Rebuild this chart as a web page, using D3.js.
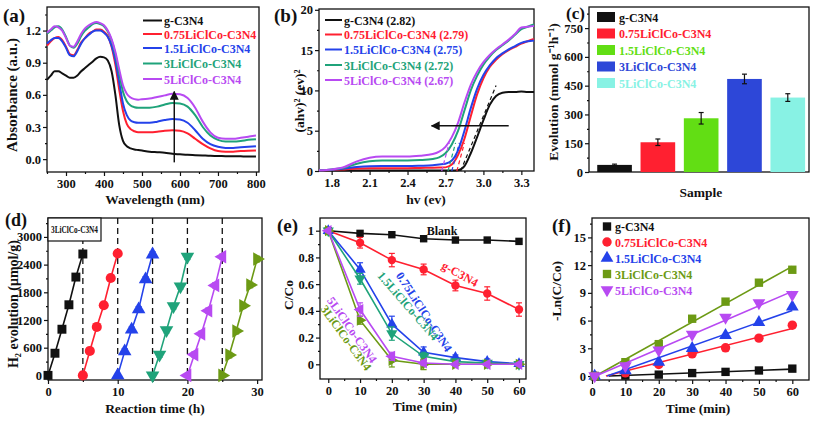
<!DOCTYPE html>
<html><head><meta charset="utf-8">
<script src="https://cdn.jsdelivr.net/npm/d3@7"></script>
<style>
body{margin:0;background:#fff;}
svg{display:block;font-family:"Liberation Serif","Times New Roman",serif;font-weight:bold;}
</style></head><body>
<svg id="c" width="813" height="421"></svg>
<script>
// ---------------- DATA ----------------
// (a) UV-vis absorbance
const wavelength = [250,260,270,280,290,300,310,320,330,340,350,360,370,380,390,400,410,420,430,440,450,460,470,480,490,500,520,540,560,580,600,620,640,660,680,700,720,740,760,780,800];
const absG   = [0.74,0.78,0.82,0.82,0.80,0.78,0.76,0.76,0.78,0.82,0.85,0.88,0.91,0.94,0.955,0.95,0.92,0.82,0.60,0.32,0.17,0.12,0.10,0.09,0.085,0.08,0.07,0.065,0.06,0.05,0.045,0.04,0.037,0.034,0.031,0.03,0.028,0.027,0.026,0.025,0.025];
const abs075 = [1.06,1.10,1.13,1.14,1.11,1.05,0.98,0.97,1.02,1.09,1.13,1.17,1.19,1.21,1.21,1.19,1.15,1.05,0.88,0.65,0.45,0.33,0.28,0.26,0.25,0.25,0.25,0.255,0.265,0.27,0.265,0.24,0.19,0.14,0.10,0.075,0.07,0.07,0.075,0.078,0.08];
const abs15  = [1.08,1.11,1.13,1.13,1.10,1.04,0.97,0.96,1.01,1.08,1.13,1.16,1.19,1.20,1.20,1.18,1.14,1.06,0.92,0.72,0.52,0.41,0.36,0.345,0.34,0.34,0.34,0.35,0.365,0.375,0.37,0.34,0.27,0.19,0.14,0.115,0.105,0.105,0.11,0.115,0.12];
const abs3   = [1.17,1.20,1.23,1.24,1.21,1.14,1.06,1.04,1.08,1.15,1.20,1.23,1.26,1.27,1.26,1.24,1.19,1.11,0.98,0.80,0.63,0.54,0.50,0.485,0.48,0.48,0.48,0.49,0.51,0.525,0.52,0.49,0.41,0.30,0.22,0.18,0.165,0.165,0.17,0.18,0.185];
const abs5   = [1.18,1.21,1.24,1.23,1.20,1.13,1.06,1.05,1.10,1.17,1.22,1.25,1.27,1.28,1.27,1.25,1.20,1.12,1.00,0.84,0.69,0.61,0.575,0.56,0.555,0.56,0.565,0.58,0.595,0.61,0.605,0.57,0.48,0.35,0.25,0.20,0.19,0.19,0.20,0.21,0.22];
const sampleNames = ["g-C3N4","0.75LiClCo-C3N4","1.5LiClCo-C3N4","3LiClCo-C3N4","5LiClCo-C3N4"];
const absTicksX = [300,400,500,600,700,800];
const absTicksY = [0,0.3,0.6,0.9,1.2];

// (b) Tauc plot
const energy = [1.7,1.8,1.9,2.0,2.1,2.2,2.3,2.4,2.5,2.6,2.65,2.7,2.75,2.8,2.85,2.9,2.95,3.0,3.05,3.1,3.15,3.2,3.25,3.3,3.35,3.4];
const taucG   = [0.05,0.05,0.05,0.05,0.05,0.05,0.05,0.05,0.05,0.05,0.05,0.05,0.05,0.1,0.6,2.2,4.2,6.3,8.2,9.3,9.7,9.8,9.8,9.85,9.8,9.8];
const tauc075 = [0.1,0.12,0.2,0.3,0.35,0.35,0.35,0.35,0.38,0.4,0.42,0.45,0.8,2.0,4.0,6.8,9.5,11.5,12.9,13.8,14.5,15.0,15.4,15.8,16.1,16.4];
const tauc15  = [0.1,0.15,0.3,0.5,0.6,0.62,0.62,0.62,0.65,0.7,0.8,0.9,1.3,2.6,5.0,7.8,10.2,11.9,13.1,14.0,14.6,15.1,15.5,15.9,16.1,16.2];
const tauc3   = [0.1,0.2,0.4,0.9,1.2,1.3,1.3,1.3,1.35,1.5,1.7,2.2,3.3,5.0,7.5,10.0,11.8,13.2,14.2,15.0,15.6,16.2,16.9,17.6,17.9,18.2];
const tauc5   = [0.1,0.2,0.5,1.2,1.65,1.8,1.8,1.8,1.9,2.1,2.4,3.0,4.2,6.0,8.5,10.7,12.3,13.5,14.4,15.1,15.7,16.3,17.0,17.8,17.9,18.0];
const bandGaps = [2.82,2.79,2.75,2.72,2.67];
const tangentEndX = [3.10,2.85,2.81,2.78,2.73];
const tangentEndY = [10.6,3.5,3.5,3.5,3.5];
const taucTicksX = [1.8,2.1,2.4,2.7,3.0,3.3];
const taucTicksY = [0,5,10,15,20];

// (c) H2 evolution rate
const rateValues = [37,155,280,485,388];
const rateErrors = [4,17,30,25,20];
const rateTicksY = [0,150,300,450,600,750];

// (d) cycling
const cycleStarts = [0,5,10,15,20,25];
const cycleHours  = [0,1,2,3,4,5];
const cycle1 = [0,480,1000,1530,2130,2630];
const cycle2 = [0,530,1050,1520,2110,2640];
const cycle3 = [0,520,990,1430,2080,2620];
const cycle4 = [0,450,980,1500,1930,2570];
const cycle5 = [0,450,900,1400,1950,2570];
const cycle6 = [0,440,960,1510,1960,2520];
const cycleTicksX = [0,10,20,30];
const cycleTicksY = [0,600,1200,1800,2400,3000];

// (e) degradation
const degTimes = [0,10,20,30,40,50,60];
const degNames = ["Blank","g-C3N4","0.75LiClCo-C3N4","1.5LiClCo-C3N4","5LiClCo-C3N4","3LiClCo-C3N4"];
const degBlank = [1,0.98,0.97,0.94,0.93,0.93,0.92];
const degG     = [1,0.91,0.78,0.71,0.59,0.53,0.41];
const deg075   = [1,0.71,0.30,0.09,0.05,0.02,0.005];
const deg15    = [1,0.64,0.23,0.06,0.02,0.01,0.0];
const deg5     = [1,0.41,0.06,0.01,0.0,0.0,0.0];
const deg3     = [1,0.33,0.03,0.0,0.0,0.0,0.0];
const errBlank = [0,0.01,0.01,0.01,0.01,0.01,0.01];
const errG     = [0,0.04,0.05,0.04,0.04,0.05,0.05];
const err075   = [0,0.05,0.06,0.04,0.02,0.02,0.01];
const err15    = [0,0.04,0.05,0.03,0.02,0.01,0.01];
const err5     = [0,0.05,0.03,0.02,0.01,0.01,0.01];
const err3     = [0,0.03,0.05,0.04,0.01,0.01,0.01];
const degTicksY = [0,0.2,0.4,0.6,0.8,1];
const timeTicks = [0,10,20,30,40,50,60];

// (f) kinetics
const kinTimes = [0,10,20,30,40,50,60];
const kinNames = ["g-C3N4","0.75LiClCo-C3N4","1.5LiClCo-C3N4","3LiClCo-C3N4","5LiClCo-C3N4"];
const kinG   = [0,0.05,0.15,0.32,0.45,0.6,0.8];
const kin075 = [0,0.35,1.25,2.4,3.05,4.1,5.5];
const kin15  = [0,0.6,1.5,3.0,4.4,5.8,7.5];
const kin3   = [0,1.5,3.45,6.2,8.05,10.1,11.5];
const kin5   = [0,1.1,2.8,4.5,6.35,7.9,8.8];
const kinTicksY = [0,3,6,9,12,15];

// ---------------- STYLE ----------------
const C = {black:"#111111", red:"#ff2030", blue:"#2442ea", teal:"#1fa37a", purple:"#b84af2",
           olive:"#6c9a14", lime:"#62de14", blueC:"#2d47d8", cyan:"#88f2e4"};
const FONT = "Liberation Serif, Times New Roman, serif";
const svg = d3.select("#c");

function panel(cfg){
  const g = svg.append("g");
  const x = d3.scaleLinear().domain(cfg.xd).range([cfg.L, cfg.R]);
  const y = d3.scaleLinear().domain(cfg.yd).range([cfg.B, cfg.T]);
  const styleAxis = sel => {
    sel.select(".domain").remove();
    sel.selectAll("text").attr("font-family",FONT).attr("font-weight","bold").attr("font-size",12.5).attr("fill","#111");
    sel.selectAll("line").attr("stroke","#111").attr("stroke-width",1.2);
  };
  if(cfg.xt){
    g.append("g").attr("transform",`translate(0,${cfg.B})`)
      .call(d3.axisBottom(x).tickValues(cfg.xt).tickFormat(cfg.xf||(d=>d)).tickSize(4).tickSizeOuter(0).tickPadding(3)).call(styleAxis);
    g.append("g").attr("transform",`translate(0,${cfg.B})`)
      .call(d3.axisBottom(x).tickValues(cfg.xm).tickFormat("").tickSize(2).tickSizeOuter(0)).call(styleAxis);
  }
  g.append("g").attr("transform",`translate(${cfg.L},0)`)
    .call(d3.axisLeft(y).tickValues(cfg.yt).tickFormat(cfg.yf||(d=>d)).tickSize(4).tickSizeOuter(0).tickPadding(2)).call(styleAxis);
  g.append("g").attr("transform",`translate(${cfg.L},0)`)
    .call(d3.axisLeft(y).tickValues(cfg.ym).tickFormat("").tickSize(2).tickSizeOuter(0)).call(styleAxis);
  g.append("rect").attr("x",cfg.L).attr("y",cfg.T).attr("width",cfg.R-cfg.L).attr("height",cfg.B-cfg.T)
    .attr("fill","none").attr("stroke","#111").attr("stroke-width",1.3);
  const plot = g.append("g");
  svg.append("text").attr("x",cfg.letter[0]).attr("y",cfg.letter[1]).attr("font-size",cfg.letter[2]||19).attr("fill","#111").text(cfg.name);
  if(cfg.xtitle) svg.append("text").attr("x",cfg.xtitle[0]).attr("y",cfg.xtitle[1]).attr("text-anchor","middle").attr("font-size",13.5).attr("fill","#111").text(cfg.xtitle[2]);
  if(cfg.ytitle) svg.append("text").attr("transform",`translate(${cfg.ytitle[0]},${cfg.ytitle[1]}) rotate(-90)`).attr("text-anchor","middle").attr("dominant-baseline","central").attr("font-size",cfg.ytitle[3]||13.5).attr("fill","#111").text(cfg.ytitle[2]);
  return {g:plot,x,y,cfg};
}
function range(a,b,s){const r=[];for(let v=a;v<=b+1e-9;v+=s)r.push(+v.toFixed(4));return r;}

const symTypes = {square:d3.symbolSquare,circle:d3.symbolCircle,up:d3.symbolTriangle,down:d3.symbolTriangle,left:d3.symbolTriangle,right:d3.symbolTriangle};
const symRot = {square:0,circle:0,up:0,down:180,left:-90,right:90};
function drawSym(g,type,size,cx,cy,color){
  g.append("path").attr("d",d3.symbol(symTypes[type],size)()).attr("transform",`translate(${cx},${cy}) rotate(${symRot[type]})`).attr("fill",color);
}
function errBar(g,cx,y1,y2,hw,color){
  g.append("line").attr("x1",cx).attr("x2",cx).attr("y1",y1).attr("y2",y2).attr("stroke",color).attr("stroke-width",1.2);
  g.append("line").attr("x1",cx-hw).attr("x2",cx+hw).attr("y1",y1).attr("y2",y1).attr("stroke",color).attr("stroke-width",1.2);
  g.append("line").attr("x1",cx-hw).attr("x2",cx+hw).attr("y1",y2).attr("y2",y2).attr("stroke",color).attr("stroke-width",1.2);
}
svg.append("defs").append("marker").attr("id","ah").attr("viewBox","0 0 10 10").attr("refX",9).attr("refY",5)
  .attr("markerWidth",6).attr("markerHeight",6).attr("orient","auto-start-reverse")
  .append("path").attr("d","M0,0 L10,5 L0,10 z").attr("fill","#111");

// ---------------- (a) ----------------
{
  const p = panel({name:"(a)",letter:[3,22],L:47,R:259,T:7,B:172,xd:[250,808],yd:[-0.12,1.42],
    xt:absTicksX,xm:range(250,750,100),yt:absTicksY,ym:range(0.15,1.35,0.3),yf:d3.format(".1f"),
    xtitle:[155,204,"Wavelength (nm)"],ytitle:[12,95,"Absorbance (a.u.)",15]});
  const series=[absG,abs075,abs15,abs3,abs5], cols=[C.black,C.red,C.blue,C.teal,C.purple];
  const line = d3.line().x((d,i)=>p.x(wavelength[i])).y(d=>p.y(d)).curve(d3.curveMonotoneX);
  series.forEach((s,k)=>p.g.append("path").attr("d",line(s)).attr("fill","none").attr("stroke",cols[k]).attr("stroke-width",2));
  p.g.append("line").attr("x1",p.x(585)).attr("x2",p.x(585)).attr("y1",p.y(-0.03)).attr("y2",p.y(0.63))
    .attr("stroke","#111").attr("stroke-width",1.5).attr("marker-end","url(#ah)");
  const rows=[20.5,34,48,63.5,79];
  sampleNames.forEach((n,k)=>{
    p.g.append("line").attr("x1",143).attr("x2",162).attr("y1",rows[k]).attr("y2",rows[k]).attr("stroke",cols[k]).attr("stroke-width",2);
    p.g.append("text").attr("x",164).attr("y",rows[k]+4.5).attr("font-size",12).attr("fill",cols[k]).text(n);
  });
}
// ---------------- (b) ----------------
{
  const p = panel({name:"(b)",letter:[274,22],L:319,R:534,T:9,B:171,xd:[1.7,3.4],yd:[0,20.1],
    xt:taucTicksX,xm:range(1.95,3.25,0.3),xf:d3.format(".1f"),yt:taucTicksY,ym:range(2.5,17.5,5),
    xtitle:[426,204,"hv (ev)"],ytitle:[299,101,"(ahv)² (ev)²"]});
  const series=[taucG,tauc075,tauc15,tauc3,tauc5], cols=[C.black,C.red,C.blue,C.teal,C.purple];
  const line = d3.line().x((d,i)=>p.x(energy[i])).y(d=>p.y(d)).curve(d3.curveMonotoneX);
  series.forEach((s,k)=>p.g.append("path").attr("d",line(s)).attr("fill","none").attr("stroke",cols[k]).attr("stroke-width",2));
  bandGaps.forEach((eg,k)=>p.g.append("line").attr("x1",p.x(eg)).attr("x2",p.x(tangentEndX[k])).attr("y1",p.y(0)).attr("y2",p.y(tangentEndY[k]))
    .attr("stroke",cols[k]).attr("stroke-width",1.2).attr("stroke-dasharray","4,3"));
  p.g.append("line").attr("x1",p.x(3.2)).attr("x2",p.x(2.59)).attr("y1",p.y(5.6)).attr("y2",p.y(5.6))
    .attr("stroke","#111").attr("stroke-width",1.5).attr("marker-end","url(#ah)");
  const rows=[20,34.5,49.5,65,80];
  sampleNames.forEach((n,k)=>{
    p.g.append("line").attr("x1",325).attr("x2",342).attr("y1",rows[k]).attr("y2",rows[k]).attr("stroke",cols[k]).attr("stroke-width",2);
    p.g.append("text").attr("x",344).attr("y",rows[k]+4.5).attr("font-size",12).attr("fill",cols[k]).text(`${n} (${bandGaps[k].toFixed(2)})`);
  });
}
// ---------------- (c) ----------------
{
  const p = panel({name:"(c)",letter:[566,19,17],L:589,R:809,T:7,B:172,xd:[-0.59,4.49],yd:[0,860],
    yt:rateTicksY,ym:range(75,825,150),xtitle:[701,197,"Sample"],ytitle:[553,92,"Evolution (mmol g⁻¹h⁻¹)"]});
  const cols=[C.black,C.red,C.lime,C.blueC,C.cyan];
  const bw = (p.x(1)-p.x(0))*0.8;
  rateValues.forEach((v,i)=>{
    p.g.append("rect").attr("x",p.x(i)-bw/2).attr("width",bw).attr("y",p.y(v)).attr("height",p.y(0)-p.y(v)).attr("fill",cols[i]);
    errBar(p.g,p.x(i),p.y(v+rateErrors[i]),p.y(v-rateErrors[i]),2.5,"#111");
  });
  const rows=[17,33.5,50,66.5,83];
  sampleNames.forEach((n,k)=>{
    p.g.append("rect").attr("x",597).attr("y",rows[k]-5).attr("width",18).attr("height",10).attr("fill",cols[k]);
    p.g.append("text").attr("x",619).attr("y",rows[k]+4.5).attr("font-size",12).attr("fill",cols[k]).text(n);
  });
}
// ---------------- (d) ----------------
{
  const p = panel({name:"(d)",letter:[5,226,18],L:48,R:262,T:218,B:380,xd:[0,30.7],yd:[-100,3410],
    xt:cycleTicksX,xm:[5,15,25],yt:cycleTicksY,ym:range(300,3300,600),
    xtitle:[155,413,"Reaction time (h)"],ytitle:[13,304,"H₂ evolution (μmol/g)",14]});
  const cycles=[cycle1,cycle2,cycle3,cycle4,cycle5,cycle6];
  const cols=[C.black,C.red,C.blue,C.teal,C.purple,C.olive];
  const types=["square","circle","up","down","left","right"];
  cycleStarts.slice(1).forEach(t=>p.g.append("line").attr("x1",p.x(t)).attr("x2",p.x(t)).attr("y1",p.cfg.T).attr("y2",p.y(0))
    .attr("stroke","#111").attr("stroke-width",1.3).attr("stroke-dasharray","6,4"));
  cycles.forEach((c,k)=>{
    const line=d3.line().x((d,i)=>p.x(cycleStarts[k]+cycleHours[i])).y(d=>p.y(d));
    p.g.append("path").attr("d",line(c)).attr("fill","none").attr("stroke",cols[k]).attr("stroke-width",1.6);
    c.forEach((v,i)=>{
      const cx=p.x(cycleStarts[k]+cycleHours[i]);
      if(v>0) errBar(p.g,cx,p.y(v+60),p.y(v-60),3,cols[k]);
      drawSym(p.g,types[k],80,cx,p.y(v),cols[k]);
    });
  });
  p.g.append("rect").attr("x",48).attr("y",218).attr("width",53).attr("height",23).attr("fill","#fff").attr("stroke","#111").attr("stroke-width",1.2);
  p.g.append("text").attr("x",74.5).attr("y",233).attr("text-anchor","middle").attr("font-size",10)
    .attr("textLength",47).attr("lengthAdjust","spacingAndGlyphs").attr("fill","#111").text("3LiClCo-C3N4");
}
// ---------------- (e) ----------------
{
  const p = panel({name:"(e)",letter:[277,232],L:320,R:526,T:218,B:379,xd:[-2.6,62.2],yd:[-0.11,1.095],
    xt:timeTicks,xm:range(5,55,10),yt:degTicksY,ym:range(0.1,0.9,0.2),yf:d=>(d===0||d===1)?d:d.toFixed(1),
    xtitle:[425,411,"Time (min)"],ytitle:[288,295,"C/Co"]});
  const series=[degBlank,degG,deg075,deg15,deg5,deg3], errs=[errBlank,errG,err075,err15,err5,err3];
  const cols=[C.black,C.red,C.blue,C.teal,C.purple,C.olive];
  const types=["square","circle","up","down","left","right"];
  const order=[0,1,2,3,5,4];
  order.forEach(k=>{
    const s=series[k];
    const line=d3.line().x((d,i)=>p.x(degTimes[i])).y(d=>p.y(d));
    p.g.append("path").attr("d",line(s)).attr("fill","none").attr("stroke",cols[k]).attr("stroke-width",1.6);
    s.forEach((v,i)=>{
      const cx=p.x(degTimes[i]);
      if(errs[k][i]>0.015) errBar(p.g,cx,p.y(v+errs[k][i]),p.y(v-errs[k][i]),3,cols[k]);
      drawSym(p.g,types[k],55,cx,p.y(v),cols[k]);
    });
  });
  const lab=(t,cx,cy,ang,col)=>p.g.append("text").attr("transform",`translate(${cx},${cy}) rotate(${ang})`).attr("text-anchor","middle").attr("dominant-baseline","central").attr("font-size",12).attr("fill",col).text(t);
  lab(degNames[0],442,231,0,C.black);
  lab(degNames[1],460,274,29,C.red);
  lab(degNames[2],424,312,57,C.blue);
  lab(degNames[3],408,306,49,C.teal);
  lab(degNames[4],352,330,55,C.purple);
  lab(degNames[5],346,338,54,C.olive);
}
// ---------------- (f) ----------------
{
  const p = panel({name:"(f)",letter:[552,232],L:592,R:809,T:218,B:380,xd:[0,65],yd:[-0.43,17.1],
    xt:timeTicks,xm:range(5,55,10),yt:kinTicksY,ym:range(1.5,16.5,3),
    xtitle:[698,413,"Time (min)"],ytitle:[556,291,"-Ln(C/Co)"]});
  const series=[kinG,kin075,kin15,kin3,kin5];
  const cols=[C.black,C.red,C.blue,C.olive,C.purple];
  const types=["square","circle","up","square","down"];
  series.forEach((s,k)=>{
    const mx=d3.mean(kinTimes), my=d3.mean(s);
    const m=d3.sum(kinTimes,(t,i)=>(t-mx)*(s[i]-my))/d3.sum(kinTimes,t=>(t-mx)*(t-mx));
    const b=my-m*mx;
    const x0=Math.max(0,-b/m);
    p.g.append("line").attr("x1",p.x(x0)).attr("x2",p.x(60)).attr("y1",p.y(m*x0+b)).attr("y2",p.y(m*60+b)).attr("stroke",cols[k]).attr("stroke-width",1.6);
    s.forEach((v,i)=>drawSym(p.g,types[k],70,p.x(kinTimes[i]+(i===0?0.8:0)),p.y(v),cols[k]));
  });
  const rows=[226.5,242,258,274,290];
  kinNames.forEach((n,k)=>{
    drawSym(p.g,types[k],70,607,rows[k],cols[k]);
    p.g.append("text").attr("x",615).attr("y",rows[k]+4.5).attr("font-size",12).attr("fill",cols[k]).text(n);
  });
}
</script>
</body></html>
